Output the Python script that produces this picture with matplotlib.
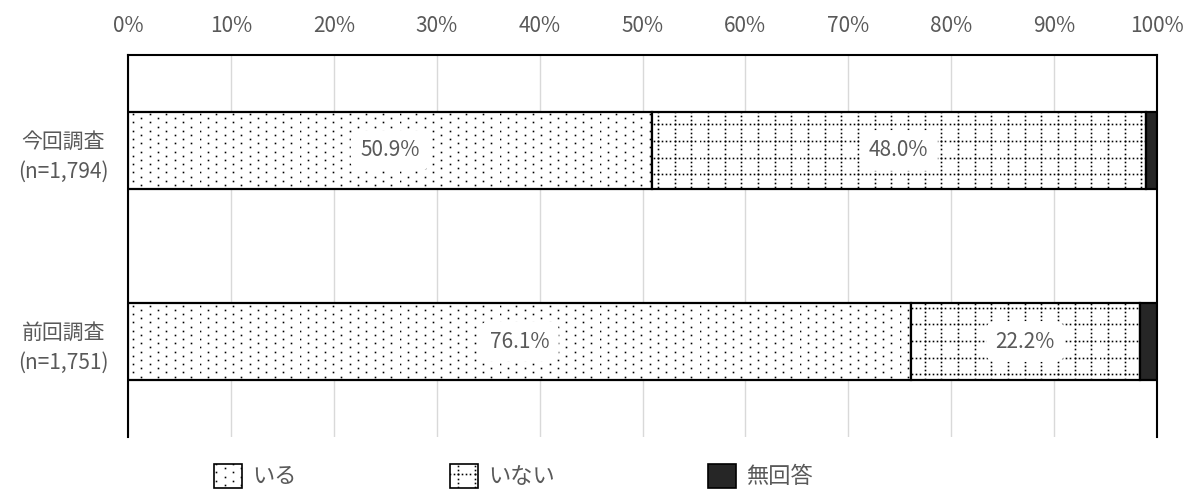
import numpy as np
import matplotlib
matplotlib.use("Agg")
import matplotlib.pyplot as plt
import matplotlib.hatch as mhatch
from matplotlib.path import Path
from matplotlib.patches import Patch

plt.rcParams['font.family'] = ['Noto Sans CJK JP', 'DejaVu Sans']
plt.rcParams['hatch.linewidth'] = 0.45

# ---- data -------------------------------------------------------------
categories = ["今回調査\n(n=1,794)", "前回調査\n(n=1,751)"]
series_names = ["いる", "いない", "無回答"]
iru = [50.9, 76.1]
inai = [48.0, 22.2]
mukaito = [1.1, 1.7]
xtick_values = [0, 10, 20, 30, 40, 50, 60, 70, 80, 90, 100]

DPI = 100


# ---- custom hatches: staggered square dots ('.') and a dotted grid ('+') ----
def _snap(v):
    # place dot centres on pixel centres of the 1-inch hatch tile
    return (np.floor(np.asarray(v) * DPI) + 0.5) / DPI


def _square_block(centers, h):
    sq = np.array([[-h, -h], [h, -h], [h, h], [-h, h], [-h, -h]])
    verts = (centers[:, None, :] + sq[None, :, :]).reshape(-1, 2)
    c = np.full(5, Path.LINETO, dtype=Path.code_type)
    c[0] = Path.MOVETO
    c[-1] = Path.CLOSEPOLY
    return verts, np.tile(c, len(centers))


class StaggeredDots(mhatch.HatchPatternBase):
    def __init__(self, hatch, density):
        pts = []
        if '.' in hatch:
            for i in range(24):
                for j in range(6):
                    pts.append(((j + 0.5 * (i % 2)) / 6.0, (i + 0.5) / 24.0))
        self.centers = _snap(np.array(pts, dtype=float).reshape(-1, 2))
        self.num_vertices = len(pts) * 5

    def set_vertices_and_codes(self, vertices, codes):
        v, c = _square_block(self.centers, 0.005)
        vertices[:] = v
        codes[:] = c


class DottedGrid(mhatch.HatchPatternBase):
    def __init__(self, hatch, density):
        pts = []
        if '+' in hatch:
            for i in range(6):
                for k in range(24):
                    pts.append(((i + 0.5) / 6.0, k / 24.0))
                    pts.append((k / 24.0, (i + 0.5) / 6.0))
        self.centers = _snap(np.array(pts, dtype=float).reshape(-1, 2))
        self.num_vertices = len(pts) * 5

    def set_vertices_and_codes(self, vertices, codes):
        v, c = _square_block(self.centers, 0.005)
        vertices[:] = v
        codes[:] = c


mhatch._hatch_types[:] = [StaggeredDots, DottedGrid]

# ---- figure -------------------------------------------------------------
text_color = "#595959"
dark = "#262626"

fig = plt.figure(figsize=(11.86, 4.90), dpi=DPI)
ax = fig.add_axes([128 / 1186, 1 - 437 / 490, (1157 - 128) / 1186, (437 - 55) / 490])

y = np.arange(len(categories))
bar_h = 0.4

left = np.zeros(len(categories))
styles = [
    dict(facecolor="white", hatch="."),
    dict(facecolor="white", hatch="+"),
    dict(facecolor=dark, hatch=None),
]
values = [iru, inai, mukaito]
for name, vals, st in zip(series_names, values, styles):
    vals = np.asarray(vals)
    ax.barh(y, vals, left=left, height=bar_h, edgecolor="black",
            linewidth=1.6, zorder=3, label=name, **st)
    if name != "無回答":
        for yi, l, v in zip(y, left, vals):
            ax.text(l + v / 2, yi, f"{v:.1f}%", ha="center", va="center",
                    fontsize=15, color=text_color, zorder=5,
                    bbox=dict(boxstyle="round,pad=0.45", facecolor="white",
                              edgecolor="none"))
    left = left + vals

ax.set_xlim(0, 100)
ax.set_ylim(len(categories) - 0.5, -0.5)
ax.set_xticks(xtick_values)
ax.set_xticklabels([f"{v}%" for v in xtick_values])
ax.xaxis.tick_top()
ax.tick_params(axis="x", length=0, pad=13, labelsize=15, labelcolor=text_color)
ax.set_yticks(y)
ax.set_yticklabels(categories, multialignment="center", linespacing=1.45)
ax.tick_params(axis="y", length=0, pad=14, labelsize=15, labelcolor=text_color)

ax.grid(axis="x", color="#d9d9d9", linewidth=1, zorder=0)
ax.set_axisbelow(True)
for side in ["top", "left", "right"]:
    ax.spines[side].set_color("black")
    ax.spines[side].set_linewidth(1.5)
ax.spines["bottom"].set_visible(False)

# ---- legend: three separately placed entries ----------------------------
legend_x = [214, 450, 708]
for name, st, lx in zip(series_names, styles, legend_x):
    handle = Patch(facecolor=st["facecolor"], hatch=st["hatch"],
                   edgecolor="black", linewidth=1.2)
    lg = fig.legend([handle], [name], loc="upper left",
                    bbox_to_anchor=(lx / 1186, 1 - 464 / 490),
                    frameon=False, fontsize=16, handlelength=1.25,
                    handleheight=1.25, handletextpad=0.45, borderpad=0,
                    borderaxespad=0)
    for t in lg.get_texts():
        t.set_color(text_color)

fig.savefig("out.png", dpi=DPI)
